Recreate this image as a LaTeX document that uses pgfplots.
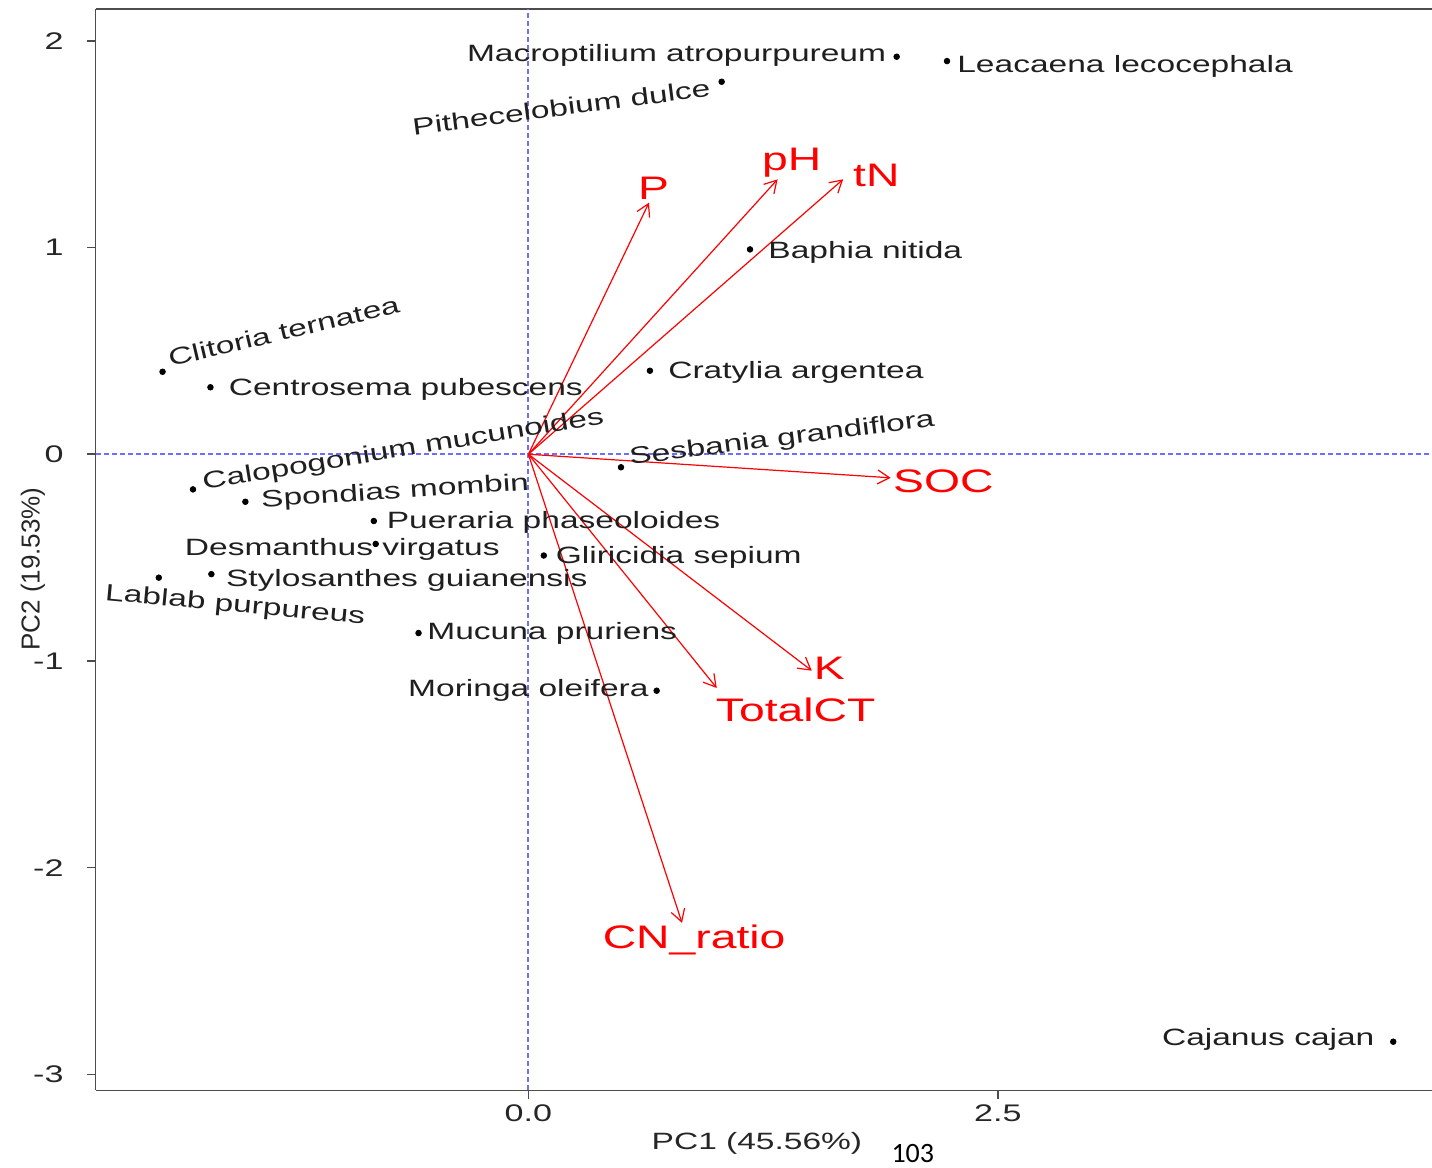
\documentclass[border=0pt]{standalone}
\usepackage{fontspec}
\setmainfont{Liberation Sans}[FakeStretch=1.42]
\newfontfamily\plainsans{Liberation Sans}
\newfontfamily\pagefont{Carlito}
\usepackage{pgfplots}
\pgfplotsset{compat=1.18}
\usepackage{pgfplotstable}
\usetikzlibrary{arrows.meta}

\definecolor{refblue}{RGB}{110,110,255}

\pgfplotstableread{
x      y
1.961  1.923
2.229  1.902
1.029  1.802
1.180  0.991
0.647  0.404
-1.948 0.399
-1.693 0.324
0.493  -0.063
-1.786 -0.170
-1.507 -0.230
-0.823 -0.323
-0.813 -0.434
0.082  -0.490
-1.688 -0.580
-1.968 -0.597
-0.585 -0.865
0.683  -1.144
4.605  -2.842
}\scores

\tikzset{
  sp/.style={anchor=base west, inner sep=0pt, font=\fontsize{11.8}{14}\selectfont, text=black!88},
  vr/.style={anchor=base west, inner sep=0pt, font=\fontsize{16.3}{19}\selectfont, text=red},
  ld/.style={red, line width=0.6pt, -{Straight Barb[length=6pt,width=7pt]}},
}

\begin{document}
\begin{tikzpicture}
\begin{axis}[
  scale only axis,
  width=668.15pt, height=540.75pt,
  xmin=-2.304, xmax=4.8115, ymin=-3.078, ymax=2.154,
  axis x line*=bottom, axis y line*=left,
  axis line style={black!70, line width=0.8pt},
  tick align=outside,
  major tick length=4.2pt,
  tick style={black!70, line width=0.8pt},
  xtick={0,2.5}, xticklabels={0.0,2.5},
  ytick={-3,-2,-1,0,1,2}, yticklabels={-3,-2,-1,0,1,2},
  /pgf/number format/assume math mode=true,
  ticklabel style={font=\fontsize{12}{14}\selectfont, text=black!85},
  xticklabel style={inner sep=0pt, yshift=-2.5pt},
  yticklabel style={inner sep=0pt, xshift=-11.7pt},
  clip=false,
]
\coordinate (SW) at (rel axis cs:0,0);
\coordinate (NE) at (rel axis cs:1,1);
\draw[black!70, line width=0.8pt] (rel axis cs:0,1) -- (rel axis cs:1,1);

% reference lines
\draw[refblue, line width=0.9pt, dash pattern=on 2.5pt off 1.5pt] (axis cs:0,-3.078) -- (axis cs:0,2.154);
\draw[refblue, line width=0.9pt, dash pattern=on 2.5pt off 1.5pt] (axis cs:-2.304,0) -- (axis cs:4.8115,0);

% loadings
\addplot[ld] coordinates {(0,0) (0.642,1.217)};
\addplot[ld] coordinates {(0,0) (1.327,1.330)};
\addplot[ld] coordinates {(0,0) (1.676,1.330)};
\addplot[ld] coordinates {(0,0) (1.929,-0.114)};
\addplot[ld] coordinates {(0,0) (1.509,-1.047)};
\addplot[ld] coordinates {(0,0) (1.003,-1.131)};
\addplot[ld] coordinates {(0,0) (0.818,-2.267)};

% scores
\addplot[only marks, mark=*, mark size=1.4pt, black] table[x=x,y=y] {\scores};

% variable labels
\node[vr] at (axis cs:0.582,1.233) {P};
\node[vr] at (axis cs:1.242,1.375) {pH};
\node[vr] at (axis cs:1.727,1.294) {tN};
\node[vr] at (axis cs:1.940,-0.186) {SOC};
\node[vr] at (axis cs:1.518,-1.092) {K};
\node[vr] at (axis cs:0.996,-1.294) {TotalCT};
\node[vr] at (axis cs:0.394,-2.390) {CN\_ratio};

% species labels
\node[sp] at (axis cs:-0.329,1.899) {Macroptilium atropurpureum};
\node[sp] at (axis cs:2.282,1.846) {Leacaena lecocephala};
\node[sp, rotate=7.4] at (axis cs:-0.613,1.544) {Pithecelobium dulce};
\node[sp] at (axis cs:1.276,0.948) {Baphia nitida};
\node[sp] at (axis cs:0.743,0.367) {Cratylia argentea};
\node[sp, rotate=13.3] at (axis cs:-1.907,0.423) {Clitoria ternatea};
\node[sp] at (axis cs:-1.597,0.286) {Centrosema pubescens};
\node[sp, rotate=7.3] at (axis cs:0.541,-0.052) {Sesbania grandiflora};
\node[sp, rotate=9.3] at (axis cs:-1.730,-0.170) {Calopogonium mucunoides};
\node[sp, rotate=3.7] at (axis cs:-1.422,-0.257) {Spondias mombin};
\node[sp] at (axis cs:-0.756,-0.358) {Pueraria phaseoloides};
\node[sp] at (axis cs:-1.831,-0.488) {Desmanthus virgatus};
\node[sp] at (axis cs:0.144,-0.528) {Gliricidia sepium};
\node[sp] at (axis cs:-1.612,-0.641) {Stylosanthes guianensis};
\node[sp, rotate=-5.3] at (axis cs:-2.258,-0.705) {Lablab purpureus};
\node[sp] at (axis cs:-0.540,-0.896) {Mucuna pruriens};
\node[sp] at (axis cs:-0.642,-1.173) {Moringa oleifera};
\node[sp] at (axis cs:3.372,-2.858) {Cajanus cajan};

% axis titles
\node[rotate=90, anchor=center, inner sep=0pt, font=\plainsans\fontsize{13}{15}\selectfont, text=black!85]
  at ([xshift=-31.35pt]axis cs:-2.304,-0.555) {PC2 (19.53\%)};
\node[anchor=base, inner sep=0pt, font=\fontsize{11.8}{14}\selectfont, text=black!85]
  at ([yshift=-29.75pt]axis cs:1.217,-3.078) {PC1 (45.56\%)};
\node[anchor=base, inner sep=0pt, font=\pagefont\fontsize{14}{16}\selectfont]
  at ([yshift=-36.25pt]axis cs:2.047,-3.078) {103};
\end{axis}
\pgfresetboundingbox
\path ([xshift=-47.85pt, yshift=-38.75pt]SW) rectangle ([yshift=4.5pt]NE);
\end{tikzpicture}
\end{document}
